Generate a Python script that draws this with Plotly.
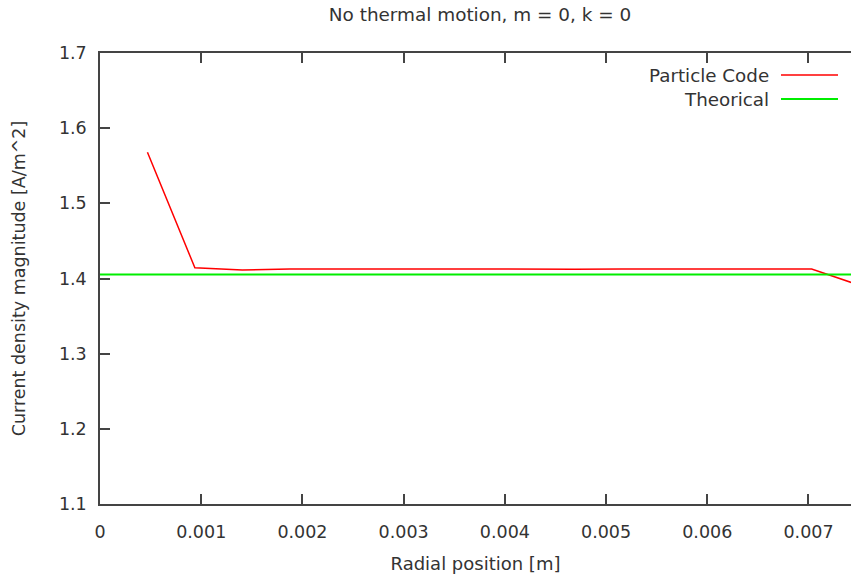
import plotly.graph_objects as go

# Radial grid (cell centres) and current density from the particle code
radius = [0.00046875, 0.0009375, 0.00140625, 0.001875, 0.00234375, 0.0028125,
          0.00328125, 0.00375, 0.00421875, 0.0046875, 0.00515625, 0.005625,
          0.00609375, 0.0065625, 0.00703125, 0.0075]
j_particle = [1.568, 1.4142, 1.4112, 1.4128, 1.4127, 1.4125, 1.4122, 1.4124,
              1.4123, 1.4124, 1.4125, 1.4125, 1.4126, 1.4126, 1.4127, 1.3912]
j_theory = 1.4052

x_ticks = [0, 0.001, 0.002, 0.003, 0.004, 0.005, 0.006, 0.007]
x_tick_text = ["0", "0.001", "0.002", "0.003", "0.004", "0.005", "0.006", "0.007"]
y_ticks = [1.1, 1.2, 1.3, 1.4, 1.5, 1.6, 1.7]

FONT = "DejaVu Sans"
TXT = "#333333"
AX = "#444444"

W, H = 851, 579
L, R, T, B = 100, 0, 53, 75
PW, PH = W - L - R, H - T - B

fig = go.Figure()
fig.add_trace(go.Scatter(x=radius, y=j_particle, mode="lines", name="Particle Code",
                         line=dict(color="#ff0000", width=1.5)))
fig.add_trace(go.Scatter(x=[0, 0.0075], y=[j_theory, j_theory], mode="lines",
                         name="Theorical", line=dict(color="#00ee00", width=2)))

axis_common = dict(showgrid=False, zeroline=False, showline=True, linecolor=AX,
                   linewidth=1.5, ticks="inside", ticklen=10, tickwidth=1.5,
                   tickcolor=AX, tickfont=dict(family=FONT, size=17.5, color=TXT))

fig.update_xaxes(range=[0, 0.00742], tickvals=x_ticks, ticktext=x_tick_text,
                 mirror="ticks", ticklabelstandoff=11,
                 title=dict(text="Radial position [m]", standoff=17,
                            font=dict(family=FONT, size=18, color=TXT)),
                 **axis_common)
fig.update_yaxes(range=[1.1, 1.7], tickvals=y_ticks, tickformat=".1f",
                 ticklabelstandoff=8,
                 title=dict(text="Current density magnitude [A/m^2]", standoff=29,
                            font=dict(family=FONT, size=17.5, color=TXT)),
                 **axis_common)


def px_x(xp):
    return (xp - L) / PW


def px_y(yp):
    return 1 - (yp - T) / PH


# Legend drawn gnuplot-style: text right-aligned, sample line to its right
legend_rows = [("Particle Code", "#ff0000", 1.5, 75), ("Theorical", "#00ee00", 2, 99)]
for label, color, lw, ypx in legend_rows:
    fig.add_annotation(x=px_x(771), y=px_y(ypx), xref="paper", yref="paper", text=label,
                       showarrow=False, xanchor="right", yanchor="middle",
                       font=dict(family=FONT, size=18.3, color=TXT))
    fig.add_shape(type="line", xref="paper", yref="paper",
                  x0=px_x(781), x1=px_x(838), y0=px_y(ypx), y1=px_y(ypx),
                  line=dict(color=color, width=lw))

fig.update_layout(
    width=W, height=H,
    margin=dict(l=L, r=R, t=T, b=B),
    paper_bgcolor="white", plot_bgcolor="white",
    showlegend=False,
    title=dict(text="No thermal motion, m = 0, k = 0", x=480 / W, xanchor="center",
               y=1 - 15 / H, yanchor="middle",
               font=dict(family=FONT, size=18.4, color=TXT)),
)

fig.write_html("out.html")
